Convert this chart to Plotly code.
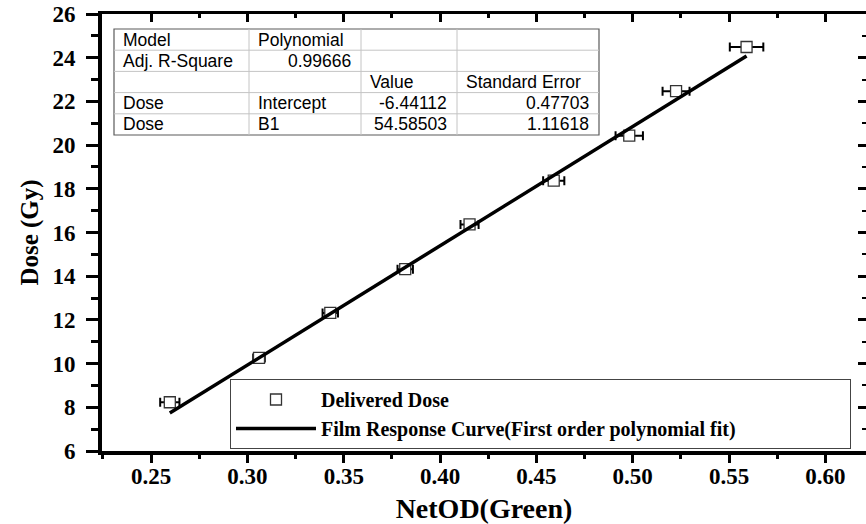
import plotly.graph_objects as go

# ---- data ----
net_od = [0.2597, 0.3060, 0.3430, 0.3819, 0.4153, 0.4590, 0.4982, 0.5225, 0.5591]
dose = [8.23, 10.26, 12.32, 14.32, 16.37, 18.37, 20.43, 22.47, 24.49]
net_od_err = [0.0050, 0.0030, 0.0040, 0.0040, 0.0047, 0.0055, 0.0071, 0.0070, 0.0087]

fit_x = [0.2597, 0.5591]
fit_y = [7.735, 24.078]

x_ticks = [0.25, 0.30, 0.35, 0.40, 0.45, 0.50, 0.55, 0.60]
x_tick_labels = ["0.25", "0.30", "0.35", "0.40", "0.45", "0.50", "0.55", "0.60"]
y_ticks = [6, 8, 10, 12, 14, 16, 18, 20, 22, 24, 26]

table_row0 = ["Model", "Polynomial", "", ""]
table_row1 = ["Adj. R-Square", "0.99666", "", ""]
table_row2 = ["", "", "Value", "Standard Error"]
table_row3 = ["Dose", "Intercept", "-6.44112", "0.47703"]
table_row4 = ["Dose", "B1", "54.58503", "1.11618"]

# ---- layout geometry / styles ----
W, H = 866, 524
ML, MR, MT, MB = 102, 0, 14, 73
PW, PH = W - ML - MR, H - MT - MB

def px_to_paper_x(px):
    return (px - ML) / PW

def px_to_paper_y(py):
    return (H - MB - py) / PH

serif = "Liberation Serif"
sans = "Liberation Sans"

fig = go.Figure()

fig.add_trace(go.Scatter(
    x=net_od, y=dose, mode="markers", name="Delivered Dose",
    marker=dict(symbol="square", size=11, color="white",
                line=dict(color="#333333", width=1.3)),
    error_x=dict(type="data", array=net_od_err, visible=True,
                 color="black", thickness=2, width=4.5),
))

# fit line drawn on the overlaid (matching) axes so they get rendered too
fig.add_trace(go.Scatter(
    x=fit_x, y=fit_y, mode="lines", xaxis="x2", yaxis="y2",
    name="Film Response Curve(First order polynomial fit)",
    line=dict(color="black", width=3.5),
))

# ---- fit-result table (grid shapes + text annotations) ----
col_edges = [114, 249, 361, 457, 599]
row_edges = [29, 50.2, 71.4, 92.6, 113.8, 135]
table_rows = [table_row0, table_row1, table_row2, table_row3, table_row4]
table_align = [
    ["left", "left", "left", "left"],
    ["left", "right", "left", "left"],
    ["left", "left", "left", "left"],
    ["left", "left", "right", "right"],
    ["left", "left", "right", "right"],
]
grid_color = "#c4c4c4"
for cx in col_edges[1:-1]:
    fig.add_shape(type="line", xref="paper", yref="paper",
                  x0=px_to_paper_x(cx), x1=px_to_paper_x(cx),
                  y0=px_to_paper_y(row_edges[0]), y1=px_to_paper_y(row_edges[-1]),
                  line=dict(color=grid_color, width=1), layer="above")
for ry in row_edges[1:-1]:
    fig.add_shape(type="line", xref="paper", yref="paper",
                  x0=px_to_paper_x(col_edges[0]), x1=px_to_paper_x(col_edges[-1]),
                  y0=px_to_paper_y(ry), y1=px_to_paper_y(ry),
                  line=dict(color=grid_color, width=1), layer="above")
fig.add_shape(type="rect", xref="paper", yref="paper",
              x0=px_to_paper_x(col_edges[0]), x1=px_to_paper_x(col_edges[-1]),
              y0=px_to_paper_y(row_edges[-1]), y1=px_to_paper_y(row_edges[0]),
              line=dict(color="#5a5a5a", width=1.2), fillcolor="white", layer="below")

for ri, row in enumerate(table_rows):
    yc = (row_edges[ri] + row_edges[ri + 1]) / 2
    for ci, txt in enumerate(row):
        if not txt:
            continue
        al = table_align[ri][ci]
        if al == "left":
            xp, xa = col_edges[ci] + 7, "left"
        else:
            xp, xa = col_edges[ci + 1] - 8, "right"
        fig.add_annotation(x=px_to_paper_x(xp), y=px_to_paper_y(yc),
                           xref="paper", yref="paper", text=txt, showarrow=False,
                           xanchor=xa, yanchor="middle",
                           font=dict(family=sans, size=17.5, color="black"))

tickfont = dict(family=serif, size=23, color="black", weight="bold")

fig.update_layout(
    width=W, height=H,
    margin=dict(l=ML, r=MR, t=MT, b=MB, pad=0),
    paper_bgcolor="white", plot_bgcolor="white",
    showlegend=True,
    legend=dict(x=px_to_paper_x(230), y=px_to_paper_y(379),
                xanchor="left", yanchor="top", orientation="h",
                entrywidth=524, entrywidthmode="pixels",
                bgcolor="white", bordercolor="#444444", borderwidth=1,
                font=dict(family=serif, size=20, color="black", weight="bold"),
                itemwidth=80, tracegroupgap=0),
    xaxis=dict(range=[0.2245, 0.6211], showgrid=False, zeroline=False,
               showline=True, linecolor="black", linewidth=4,
               ticks="outside", ticklen=8, tickwidth=3, tickcolor="black",
               tickvals=x_ticks, ticktext=x_tick_labels,
               minor=dict(ticks="outside", ticklen=4, tickwidth=3,
                          tickcolor="black", dtick=0.025, tick0=0.025),
               tickfont=tickfont, ticklabelstandoff=-7,
               title=dict(text="NetOD(Green)", standoff=17,
                          font=dict(family=serif, size=28, color="black", weight="bold"))),
    xaxis2=dict(overlaying="x", matches="x", side="top", anchor="y2",
                showgrid=False, zeroline=False, showticklabels=False,
                showline=True, linecolor="black", linewidth=3,
                ticks="inside", ticklen=8, tickwidth=3, tickcolor="black",
                tickvals=x_ticks,
                minor=dict(ticks="inside", ticklen=4, tickwidth=3,
                           tickcolor="black", dtick=0.025, tick0=0.025)),
    yaxis=dict(range=[6, 26], showgrid=False, zeroline=False,
               showline=True, linecolor="black", linewidth=4,
               ticks="outside", ticklen=12, tickwidth=3, tickcolor="black",
               tickvals=y_ticks,
               minor=dict(ticks="outside", ticklen=7, tickwidth=3,
                          tickcolor="black", dtick=1, tick0=0),
               tickfont=tickfont, ticklabelstandoff=6,
               title=dict(text="Dose (Gy)", standoff=8,
                          font=dict(family=serif, size=25, color="black", weight="bold"))),
    yaxis2=dict(overlaying="y", matches="y", side="right", anchor="x2",
                showgrid=False, zeroline=False, showticklabels=False,
                showline=False,
                ticks="inside", ticklen=8, tickwidth=3, tickcolor="black",
                tickvals=y_ticks,
                minor=dict(ticks="inside", ticklen=4, tickwidth=2,
                           tickcolor="black", dtick=1, tick0=0)),
)

fig.write_html("out.html", config={"displayModeBar": False},
               post_script="document.body.style.margin='0px';")
